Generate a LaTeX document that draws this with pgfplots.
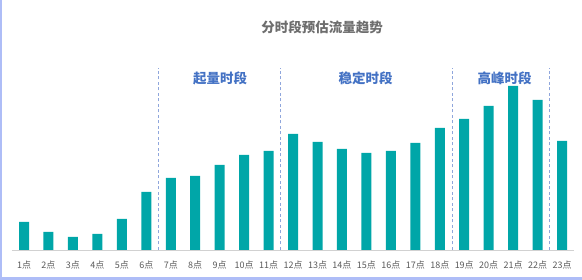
\documentclass[border=0pt]{standalone}
\usepackage{fontspec}
\setmainfont{Noto Sans CJK SC}
\usepackage{pgfplots}
\pgfplotsset{compat=1.18}
\definecolor{barteal}{HTML}{00A6A8}
\definecolor{segblue}{HTML}{4472C4}
\definecolor{dashblue}{HTML}{8FA6DC}
\definecolor{framblue}{HTML}{AEBDF7}
\definecolor{titlegray}{HTML}{6E6E6E}
\definecolor{ticklab}{HTML}{595959}
\begin{document}
\begin{tikzpicture}
\path[use as bounding box] (0,0) rectangle (582pt,280pt);
\fill[framblue] (0,0) rectangle (2.3pt,280pt);
\fill[framblue] (0,0) rectangle (582pt,3pt);
\node[font=\bfseries\fontsize{13.5}{15}\selectfont, text=titlegray] at (322pt,252.5pt) {分时段预估流量趋势};
\begin{axis}[
  at={(11.8pt,30pt)}, anchor=south west,
  scale only axis, width=562.5pt, height=182pt,
  xmin=0.5, xmax=23.5, ymin=0, ymax=182,
  axis x line=bottom, axis y line=none,
  x axis line style={draw=black!18, line width=0.8pt, -},
  xtick={1,...,23},
  xticklabels={1点,2点,3点,4点,5点,6点,7点,8点,9点,10点,11点,12点,13点,14点,15点,16点,17点,18点,19点,20点,21点,22点,23点},
  major tick length=0pt,
  xticklabel style={anchor=center, yshift=-15pt, font=\fontsize{9}{10}\selectfont, text=ticklab},
  clip=false,
]
\addplot[ybar, bar width=10pt, fill=barteal, draw=none] coordinates {
(1,28) (2,18) (3,13) (4,16) (5,31) (6,58) (7,72) (8,74) (9,85) (10,95) (11,99)
(12,116) (13,108) (14,101) (15,97) (16,99) (17,107) (18,122)
(19,131) (20,144) (21,164) (22,150) (23,109)
};
\draw[dashblue, line width=0.9pt, dash pattern=on 3pt off 2.5pt] (axis cs:6.5,0) -- (axis cs:6.5,182);
\draw[dashblue, line width=0.9pt, dash pattern=on 3pt off 2.5pt] (axis cs:11.5,0) -- (axis cs:11.5,182);
\draw[dashblue, line width=0.9pt, dash pattern=on 3pt off 2.5pt] (axis cs:18.5,0) -- (axis cs:18.5,182);
\draw[dashblue, line width=0.9pt, dash pattern=on 3pt off 2.5pt] (axis cs:22.5,0) -- (axis cs:22.5,182);
\node[font=\bfseries\fontsize{13.5}{15}\selectfont, text=segblue] at (axis cs:9.02,172) {起量时段};
\node[font=\bfseries\fontsize{13.5}{15}\selectfont, text=segblue] at (axis cs:14.97,172) {稳定时段};
\node[font=\bfseries\fontsize{13.5}{15}\selectfont, text=segblue] at (axis cs:20.65,172) {高峰时段};
\end{axis}
\end{tikzpicture}
\end{document}
